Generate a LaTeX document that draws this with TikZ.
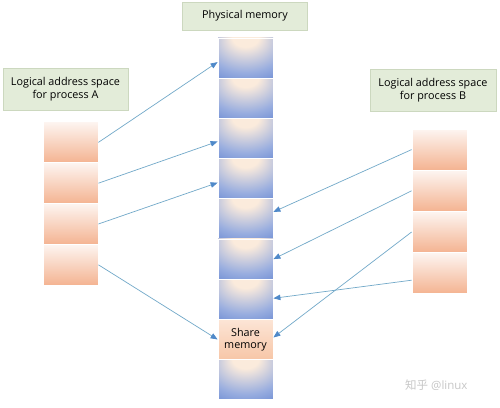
\documentclass[tikz,border=0pt]{standalone}
\usepackage{fontspec}
\setmainfont{Open Sans}
\newfontfamily\cjkfont{Noto Sans CJK SC}
\usetikzlibrary{arrows.meta}
\definecolor{cellLight}{HTML}{FBEBDC}
\definecolor{cellMid}{HTML}{98ADDF}
\definecolor{cellBlue}{HTML}{4F75CB}
\definecolor{cellDeep}{HTML}{4066C1}
\definecolor{orTop}{HTML}{FDF5F1}
\definecolor{orMid}{HTML}{FADCCA}
\definecolor{orBot}{HTML}{F4B391}
\definecolor{shTop}{HTML}{FCE5D6}
\definecolor{shBot}{HTML}{F7C6A7}
\definecolor{lblFill}{HTML}{E3ECD9}
\definecolor{lblDraw}{HTML}{CCD8BF}
\definecolor{lineCol}{HTML}{72A9C9}
\definecolor{tipCol}{HTML}{4F89C9}
\pgfdeclareradialshading{bluecell}{\pgfpoint{0bp}{30bp}}{%
  color(0bp)=(cellLight); color(12bp)=(cellLight); color(36bp)=(cellMid);
  color(60bp)=(cellBlue); color(90bp)=(cellDeep)}
\begin{document}
\begin{tikzpicture}[x=1pt,y=1pt,
  lbl/.style={draw=lblDraw, fill=lblFill, line width=0.8pt, align=center,
    font=\fontsize{10.8}{12.5}\selectfont, inner sep=0pt},
  pcell/.style={draw=white, line width=0.8pt, shading=bluecell,
    minimum width=55pt, minimum height=40.2pt, inner sep=0pt},
  ocell/.style={draw=white, line width=0.8pt, top color=orTop, middle color=orMid,
    bottom color=orBot,
    minimum width=55pt, minimum height=41pt, inner sep=0pt},
  scell/.style={draw=white, line width=0.8pt, top color=shTop, bottom color=shBot,
    minimum width=55pt, minimum height=40.2pt, inner sep=0pt, align=center,
    font=\fontsize{10.8}{12}\selectfont},
  link/.style={draw=lineCol, line width=0.7pt,
    -{Triangle[length=7pt,width=5.5pt,fill=tipCol,color=tipCol]}}
]
\useasboundingbox (0,0) rectangle (500,407);
\fill[white] (0,0) rectangle (500,407);

% labels
\node[lbl, minimum width=125pt, minimum height=28pt] (lphys) at (245,391) {Physical memory};
\node[lbl, minimum width=125pt, minimum height=42pt] (lA) at (65.5,318) {Logical address space\\for process A};
\node[lbl, minimum width=126pt, minimum height=42pt] (lB) at (433,317) {Logical address space\\for process B};

% physical memory column
\foreach \i in {1,...,7}{
  \node[pcell] (p\i) at (245.5, {369-40.2*(\i-0.5)}) {};
}
\node[scell] (p8) at (245.5, {369-40.2*7.5}) {Share\\memory};
\node[pcell] (p9) at (245.5, {369-40.2*8.5}) {};

% process A
\foreach \i in {1,...,4}{
  \node[ocell] (a\i) at (70.5, {285-40.8*(\i-0.5)}) {};
}
% process B
\foreach \i in {1,...,4}{
  \node[ocell] (b\i) at (439.5, {278-41.2*(\i-0.5)}) {};
}

% connectors A
\draw[link] (a1.east) -- ([yshift=-4pt]p1.west);
\draw[link] (a2.east) -- ([yshift=-3pt]p3.west);
\draw[link] (a3.east) -- ([yshift=-4pt]p4.west);
\draw[link] (a4.east) -- (p8.west);
% connectors B
\draw[link] (b1.west) -- ([yshift=7pt]p5.east);
\draw[link] (b2.west) -- (p6.east);
\draw[link] (b3.west) -- ([yshift=2pt]p8.east);
\draw[link] ([yshift=-7pt]b4.west) -- ([yshift=1pt]p7.east);

% watermark
\node[text=black!22, font=\fontsize{11.5}{12}\selectfont, anchor=west, inner sep=0pt] (wm) at (405,22) {{\cjkfont 知乎} @linux};
\end{tikzpicture}
\end{document}
